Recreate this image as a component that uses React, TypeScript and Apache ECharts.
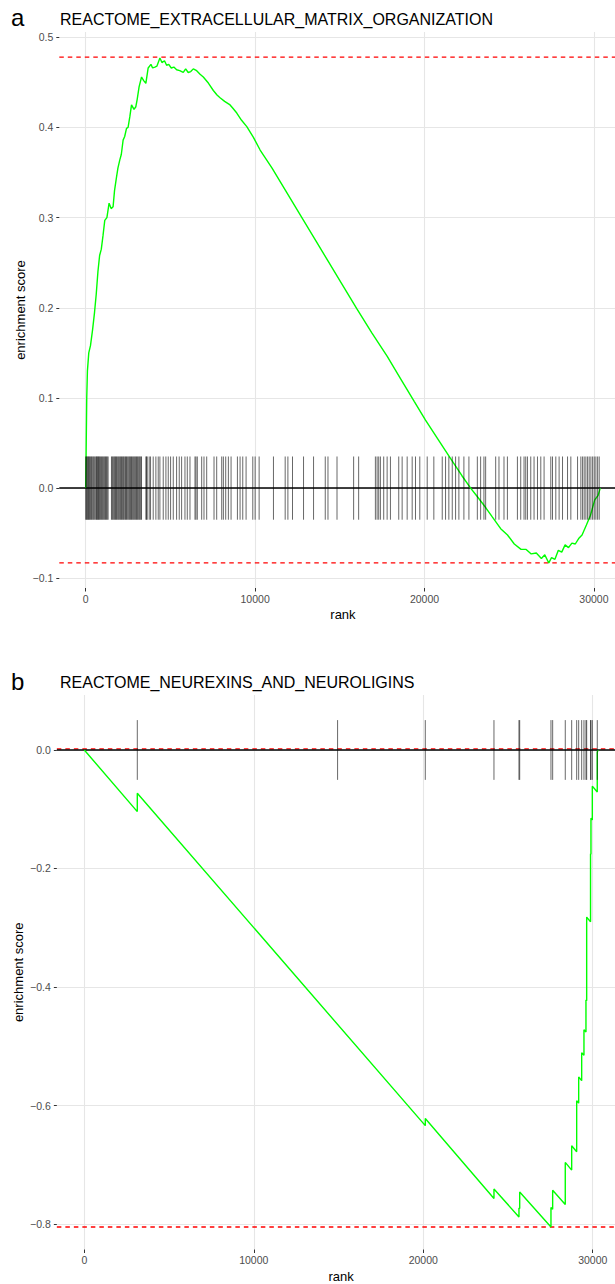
import React, { useEffect, useRef } from "react";
import * as echarts from "echarts";

const FONT = '"Liberation Sans", Arial, Helvetica, sans-serif';

const panelLetters = ["a", "b"];
const panelTitles = [
  "REACTOME_EXTRACELLULAR_MATRIX_ORGANIZATION",
  "REACTOME_NEUREXINS_AND_NEUROLIGINS",
];
const xAxisTitle = "rank";
const yAxisTitle = "enrichment score";

const xTickValues = [0, 10000, 20000, 30000];
const topYTickValues = [-0.1, 0, 0.1, 0.2, 0.3, 0.4, 0.5];
const bottomYTickValues = [-0.8, -0.6, -0.4, -0.2, 0];

// Panel a: running enrichment score (rank, score)
const topRanks = [
  0, 30, 60, 100, 180, 280, 400, 520, 620, 720, 820, 920, 1020, 1124, 1250, 1379, 1500, 1615,
  1700, 1817, 1900, 2012, 2100, 2207, 2300, 2408, 2500, 2604, 2704, 2850, 2959, 3036, 3150,
  3296, 3420, 3550, 3686, 3850, 3950, 4083, 4200, 4379, 4500, 4650, 4775, 4900, 5050, 5200,
  5367, 5550, 5757, 5900, 6050, 6200, 6350, 6550, 6750, 6941, 7250, 7533, 7750, 7929, 8200,
  8521, 8700, 8917, 9200, 9509, 9900, 10296, 11000, 11800, 12600, 13500, 14300, 15100, 16000,
  16900, 17800, 18600, 19400, 20059, 20800, 21600, 22200, 22722, 23100, 23509, 24000, 24497,
  24900, 25300, 25700, 26000, 26300, 26600, 26900, 27100, 27337, 27500, 27700, 27900, 28100,
  28300, 28500, 28700, 28900, 29100, 29300, 29557, 29800, 30048, 30250, 30373,
];
const topScores = [
  0, 0.05, 0.1, 0.13, 0.15, 0.158, 0.175, 0.195, 0.215, 0.24, 0.258, 0.265, 0.28, 0.297, 0.3,
  0.316, 0.31, 0.312, 0.33, 0.345, 0.355, 0.364, 0.37, 0.386, 0.39, 0.399, 0.4, 0.412, 0.425,
  0.42, 0.423, 0.431, 0.445, 0.456, 0.452, 0.449, 0.466, 0.47, 0.466, 0.467, 0.468, 0.477,
  0.472, 0.474, 0.469, 0.47, 0.466, 0.467, 0.464, 0.463, 0.461, 0.465, 0.461, 0.462, 0.465,
  0.463, 0.459, 0.456, 0.449, 0.441, 0.436, 0.433, 0.429, 0.425, 0.421, 0.416, 0.408, 0.401,
  0.389, 0.375, 0.355, 0.33, 0.305, 0.277, 0.252, 0.227, 0.199, 0.172, 0.146, 0.121, 0.096,
  0.0755, 0.054, 0.031, 0.014, 0.0, -0.009, -0.019, -0.032, -0.045, -0.052, -0.062, -0.068,
  -0.068, -0.073, -0.072, -0.078, -0.074, -0.083, -0.077, -0.079, -0.069, -0.071, -0.063,
  -0.066, -0.061, -0.062, -0.056, -0.052, -0.041, -0.03, -0.013, -0.008, 0.0,
];
const topHits = [
  0, 40, 79, 120, 158, 200, 237, 290, 335, 380, 434, 480, 533, 592, 640, 671, 710, 750, 790,
  828, 880, 927, 980, 1026, 1075, 1124, 1170, 1223, 1270, 1322, 1519, 1570, 1617, 1670, 1716,
  1760, 1815, 1860, 1913, 1960, 2012, 2060, 2111, 2160, 2209, 2250, 2308, 2350, 2407, 2450,
  2505, 2560, 2604, 2650, 2703, 2750, 2801, 2850, 2900, 2950, 2999, 3050, 3097, 3150, 3196,
  3250, 3294, 3550, 3590, 3629, 3748, 3826, 3984, 4142, 4280, 4379, 4576, 4734, 4872, 5010,
  5168, 5365, 5522, 5661, 5858, 5996, 6154, 6450, 6509, 6588, 6845, 6982, 7141, 7574, 7732,
  8028, 8126, 8264, 8422, 8580, 8955, 9112, 9270, 9467, 9862, 10000, 10237, 11083, 11775,
  11935, 12207, 12858, 13450, 14141, 14301, 14834, 15816, 16112, 17100, 17201, 17296, 17396,
  17591, 17793, 17988, 18479, 18680, 18976, 19272, 19467, 19721, 20159, 20550, 21047, 21242,
  21437, 21638, 21834, 22029, 22325, 22621, 23118, 23313, 23508, 23609, 24201, 24396, 24692,
  24893, 25484, 25680, 25875, 25976, 26077, 26272, 26467, 26669, 26864, 27059, 27455, 27556,
  27751, 27946, 28147, 28443, 28638, 29035, 29230, 29331, 29426, 29526, 29627, 29722, 29822,
  29923, 30018, 30118, 30219, 30313,
];
const topMaxES = 0.478;
const topMinES = -0.083;

// Panel b
const bottomRanks = [
  0, 3127, 3127, 20120, 20120, 24172, 24172, 25647, 25647, 25690, 25690, 27535,
  27535, 27635, 27635, 28379, 28379, 28757, 28757, 29052, 29052, 29170, 29170, 29347, 29347,
  29482, 29482, 29600, 29600, 29642, 29642, 29870, 29870, 29895, 29895, 29975, 29975, 30267,
  30267, 30308,
];
const bottomScores = [
  0, -0.104, -0.073, -0.634, -0.622, -0.757, -0.741, -0.788, -0.773, -0.774,
  -0.746, -0.805, -0.772, -0.775, -0.743, -0.767, -0.696, -0.709, -0.668, -0.678, -0.592,
  -0.596, -0.552, -0.558, -0.511, -0.515, -0.472, -0.476, -0.422, -0.423, -0.282, -0.29,
  -0.175, -0.176, -0.115, -0.118, -0.061, -0.071, -0.004, 0.0,
];
const bottomHits = [
  3127, 14945, 20120, 24172, 25647, 25690, 27535, 27635, 28379, 28757, 29052, 29170, 29347,
  29482, 29600, 29642, 29870, 29895, 29975, 30267,
];
const bottomMaxES = 0.002;
const bottomMinES = -0.805;

const panels = [
  {
    left: 59.3, top: 32, width: 567.3, height: 556,
    xMin: -1560, xMax: 31930, yMin: -0.1108, yMax: 0.5059,
    yTicks: topYTickValues, ranks: topRanks, scores: topScores, hits: topHits,
    maxES: topMaxES, minES: topMinES, letterY: 17, titleY: 19,
  },
  {
    left: 56.85, top: 695, width: 568.6, height: 554.5,
    xMin: -1620, xMax: 31930, yMin: -0.843, yMax: 0.0928,
    yTicks: bottomYTickValues, ranks: bottomRanks, scores: bottomScores, hits: bottomHits,
    maxES: bottomMaxES, minES: bottomMinES, letterY: 681, titleY: 682,
  },
];

const fmtRank = (v: number) => String(Math.round(v));
const fmtScore = (v: number) => {
  const r = Math.round(v * 10) / 10;
  return (r < 0 ? "\u2212" : "") + Math.abs(r).toFixed(1);
};

function buildOption() {
  const grid: any[] = [];
  const xAxis: any[] = [];
  const yAxis: any[] = [];
  const series: any[] = [];
  const graphic: any[] = [];

  panels.forEach((p, i) => {
    grid.push({
      left: p.left, top: p.top, width: p.width, height: p.height,
      show: false, containLabel: false, outerBoundsMode: "none",
    });
    xAxis.push({
      type: "value", gridIndex: i, min: p.xMin, max: p.xMax, position: "bottom",
      axisLine: { show: false, onZero: false },
      axisTick: { show: true, customValues: xTickValues, length: 3.5, lineStyle: { color: "#333333", width: 1 } },
      axisLabel: { customValues: xTickValues, formatter: fmtRank, color: "#4D4D4D", fontSize: 10.5, fontFamily: FONT, margin: 5 },
      splitLine: { show: true, lineStyle: { color: "#E6E6E6", width: 1.1 } },
      name: xAxisTitle, nameLocation: "middle", nameGap: 20, nameMoveOverlap: false,
      nameTextStyle: { color: "#000", fontSize: 13, fontFamily: FONT },
    });
    yAxis.push({
      type: "value", gridIndex: i, min: p.yMin, max: p.yMax, position: "left",
      axisLine: { show: false, onZero: false },
      axisTick: { show: true, customValues: p.yTicks, length: 3, lineStyle: { color: "#333333", width: 1 } },
      axisLabel: { customValues: p.yTicks, formatter: fmtScore, color: "#4D4D4D", fontSize: 10.5, fontFamily: FONT, margin: 6 },
      splitLine: { show: true, lineStyle: { color: "#E6E6E6", width: 1.1 } },
      name: yAxisTitle, nameLocation: "middle", nameGap: 32, nameMoveOverlap: false,
      nameTextStyle: { color: "#000", fontSize: 13, fontFamily: FONT },
    });

    const dashed = { color: "#FF0000", width: 1.3, type: [4.5, 4] };
    [p.maxES, p.minES].forEach((v) => {
      series.push({
        type: "line", xAxisIndex: i, yAxisIndex: i, silent: true, z: 2,
        symbol: "none", showSymbol: false,
        data: [[p.xMin, v], [p.xMax, v]],
        lineStyle: dashed,
      });
    });
    series.push({
      type: "line", xAxisIndex: i, yAxisIndex: i, silent: true, z: 3,
      symbol: "none", showSymbol: false,
      data: [[p.xMin, 0], [p.xMax, 0]],
      lineStyle: { color: "#000", width: 1.5 },
    });
    series.push({
      type: "line", xAxisIndex: i, yAxisIndex: i, silent: true, z: 4,
      symbol: "none", showSymbol: false,
      data: p.ranks.map((r, k) => [r, p.scores[k]]),
      lineStyle: { color: "#00FF00", width: 1.4 },
    });
    // rug: segments spanning +/- (max - min) / 16 around zero
    const half = (p.maxES - p.minES) / 16;
    series.push({
      type: "custom", xAxisIndex: i, yAxisIndex: i, silent: true, z: 5,
      data: p.hits.map((h) => [h, half]),
      encode: { x: 0, y: 1 },
      renderItem: (params: any, api: any) => {
        const x = api.value(0);
        const h = api.value(1);
        const a = api.coord([x, -h]);
        const b = api.coord([x, h]);
        return {
          type: "line",
          shape: { x1: a[0], y1: a[1], x2: b[0], y2: b[1] },
          style: { stroke: "#000", lineWidth: 0.7, opacity: 0.85 },
        };
      },
    });

    graphic.push({
      type: "text", x: 11, y: p.letterY,
      style: { text: panelLetters[i], fontSize: 24, fontFamily: FONT, fill: "#000", verticalAlign: "middle", align: "left" },
    });
    graphic.push({
      type: "text", x: 60, y: p.titleY,
      style: { text: panelTitles[i], fontSize: 16, fontFamily: FONT, fill: "#000", verticalAlign: "middle", align: "left" },
    });
  });

  return {
    animation: false,
    backgroundColor: "#ffffff",
    grid, xAxis, yAxis, series, graphic,
  };
}

export default function App() {
  const ref = useRef<HTMLDivElement>(null);
  useEffect(() => {
    if (!ref.current) return;
    const chart = echarts.init(ref.current, undefined, { renderer: "svg" });
    chart.setOption(buildOption() as any);
    return () => chart.dispose();
  }, []);
  return (
    <div style={{ position: "absolute", left: 0, top: 0, width: 615, height: 1284, overflow: "hidden", background: "#fff" }}>
      <div ref={ref} style={{ width: 630, height: 1284 }} />
    </div>
  );
}
